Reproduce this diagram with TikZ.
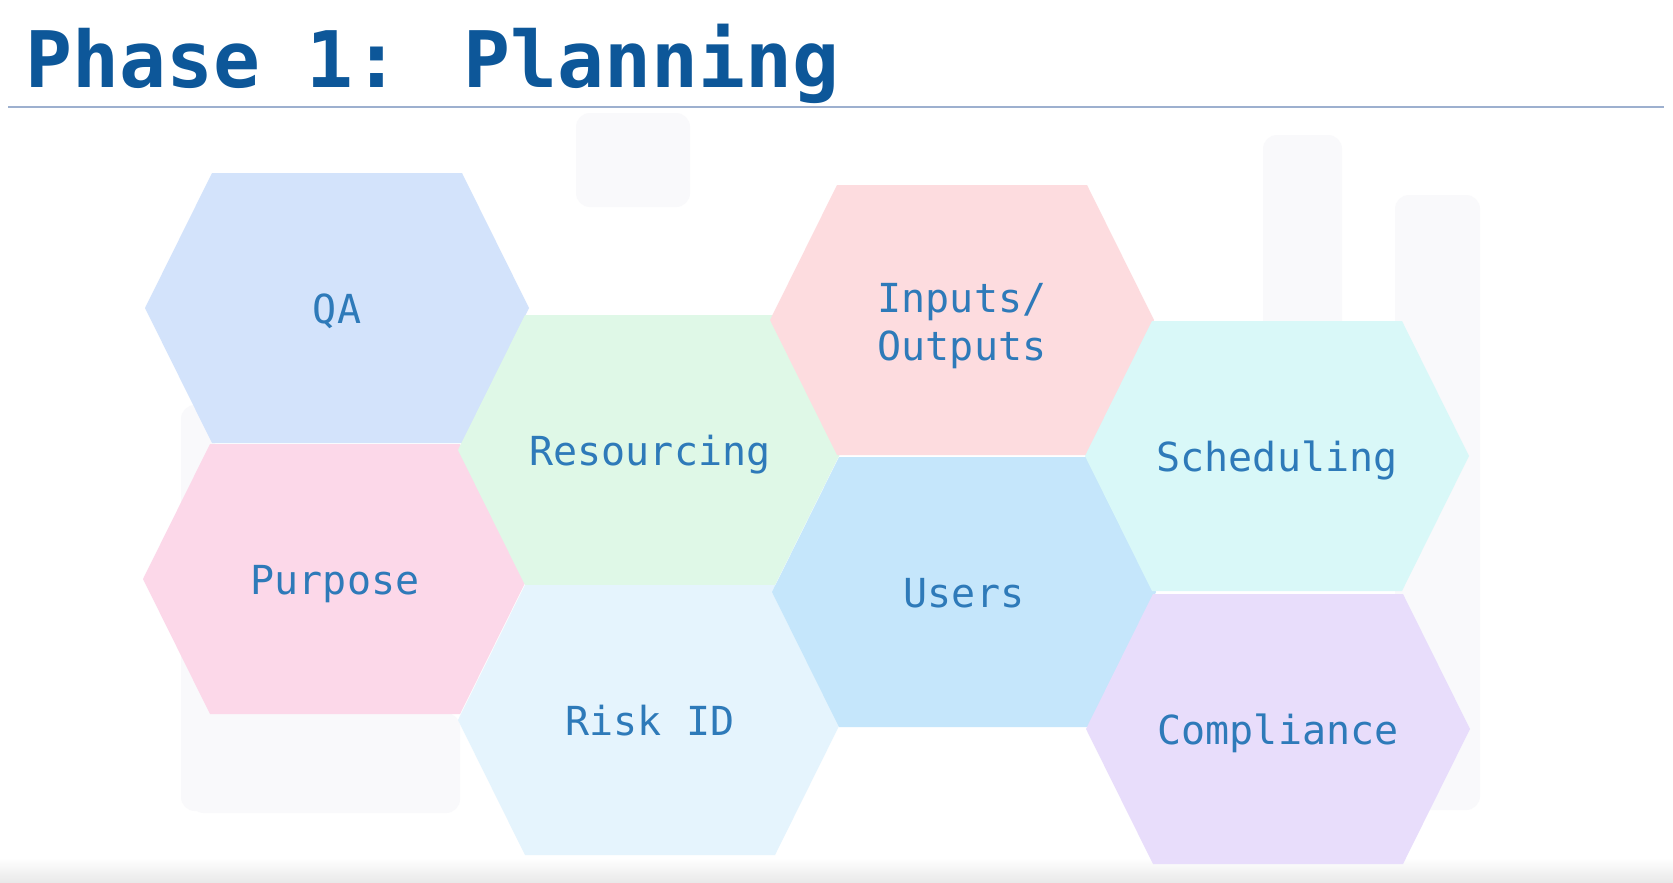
\documentclass[tikz,border=0pt]{standalone}
\usepackage{fontspec}
\newfontfamily\monofont{DejaVu Sans Mono}
\definecolor{titleblue}{HTML}{0D5799}
\definecolor{textblue}{HTML}{2E7AB9}
\definecolor{rulecol}{HTML}{9DB0CF}
\definecolor{ghost}{HTML}{F9F9FB}
\definecolor{cqa}{HTML}{D3E3FB}
\definecolor{cpurpose}{HTML}{FCD8E9}
\definecolor{cresourcing}{HTML}{DFF8E7}
\definecolor{crisk}{HTML}{E5F4FD}
\definecolor{cinputs}{HTML}{FDDCDF}
\definecolor{cusers}{HTML}{C5E6FB}
\definecolor{cscheduling}{HTML}{D9F8F8}
\definecolor{ccompliance}{HTML}{E8DDFB}
\tikzset{
  hexlabel/.style={anchor=base, inner sep=0pt, text=textblue,
    font=\monofont\fontsize{40}{48}\selectfont, align=center},
  ghostbox/.style={fill=ghost, rounded corners=14pt},
}
\newcommand{\hexfill}[2]{%
  \fill[#2] (#1) +(-192,0) -- +(-125,-135) -- +(125,-135) -- +(192,0) -- +(125,135) -- +(-125,135) -- cycle;}
\begin{document}
\begin{tikzpicture}[x=1pt,y=-1pt]
\useasboundingbox (0,0) rectangle (1673,883);
\fill[white] (0,0) rectangle (1673,883);
% faint background ghost shapes
\fill[ghostbox] (1263,135) rectangle (1342,470);
\fill[ghostbox] (1395,195) rectangle (1480,810);
\fill[ghostbox] (181,405) rectangle (215,811);
\fill[ghostbox] (576,113) rectangle (690,207);
\fill[ghostbox] (190,713) rectangle (460,813);
\shade[top color=white, bottom color=black!9] (0,858) rectangle (1673,883);
% title
\node[anchor=base west, inner sep=0pt, text=titleblue,
  font=\monofont\bfseries\fontsize{78}{88}\selectfont] (title) at (25,87) {Phase 1: Planning};
\coordinate (ruleL) at (8,107);
\coordinate (ruleR) at (1664,107);
\draw[rulecol, line width=1.3pt] (ruleL) -- (ruleR);
% hexagon centres
\coordinate (qa) at (337,308);
\coordinate (purpose) at (335,579);
\coordinate (resourcing) at (650,450);
\coordinate (risk) at (650,720);
\coordinate (inputs) at (962,320);
\coordinate (users) at (964,592);
\coordinate (scheduling) at (1277,456);
\coordinate (compliance) at (1278,729);
\hexfill{qa}{cqa}
\hexfill{purpose}{cpurpose}
\hexfill{resourcing}{cresourcing}
\hexfill{risk}{crisk}
\hexfill{inputs}{cinputs}
\hexfill{users}{cusers}
\hexfill{scheduling}{cscheduling}
\hexfill{compliance}{ccompliance}
% labels
\node[hexlabel] (tqa) at ([yshift=-15pt]qa) {QA};
\node[hexlabel] (tpurpose) at ([yshift=-15pt]purpose) {Purpose};
\node[hexlabel] (tresourcing) at ([yshift=-15pt]resourcing) {Resourcing};
\node[hexlabel] (trisk) at ([yshift=-15pt]risk) {Risk ID};
\node[hexlabel] (tinputs) at ([yshift=-40pt]inputs) {Inputs/\\Outputs};
\node[hexlabel] (tusers) at ([yshift=-15pt]users) {Users};
\node[hexlabel] (tscheduling) at ([yshift=-15pt]scheduling) {Scheduling};
\node[hexlabel] (tcompliance) at ([yshift=-15pt]compliance) {Compliance};
\end{tikzpicture}
\end{document}
